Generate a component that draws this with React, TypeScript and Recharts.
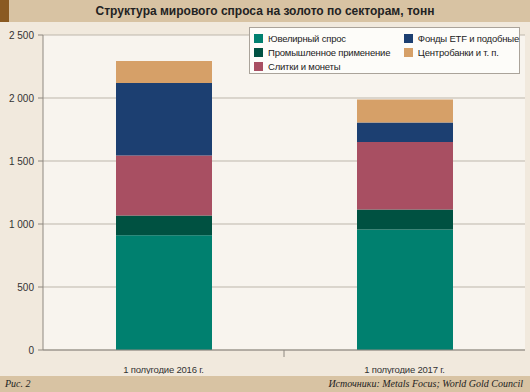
import React from "react";
import { BarChart, Bar, XAxis, YAxis, CartesianGrid } from "recharts";

const categories = ["1 полугодие 2016 г.", "1 полугодие 2017 г."];
const jewelry = [910, 957];
const industry = [158, 158];
const barsCoins = [475, 536];
const etf = [577, 155];
const centralBanks = [174, 182];
const yTicks = [0, 500, 1000, 1500, 2000, 2500];

const series = [
  { key: "jewelry", name: "Ювелирный спрос", color: "#00806f" },
  { key: "industry", name: "Промышленное применение", color: "#005141" },
  { key: "barsCoins", name: "Слитки и монеты", color: "#a84f62" },
  { key: "etf", name: "Фонды ETF и подобные", color: "#1c3f71" },
  { key: "centralBanks", name: "Центробанки и т. п.", color: "#d6a068" },
];

const data = categories.map((c, i) => ({
  cat: c,
  jewelry: jewelry[i],
  industry: industry[i],
  barsCoins: barsCoins[i],
  etf: etf[i],
  centralBanks: centralBanks[i],
}));

const FONT = "'Liberation Sans', Arial, sans-serif";

const fmt = (v: number) => (v >= 1000 ? `${Math.floor(v / 1000)} ${String(v % 1000).padStart(3, "0")}` : String(v));

const XTick = (props: any) => {
  const { x, y, payload, index } = props;
  return (
    <g>
      {index === 0 && <line x1={x + 120.5} x2={x + 120.5} y1={y - 8} y2={y - 1} stroke="#8e8880" strokeWidth={1} />}
      <text x={x} y={y + 15} textAnchor="middle" fontSize={9.5} letterSpacing={-0.2} fill="#333" fontFamily={FONT}>
        {payload.value}
      </text>
    </g>
  );
};

const LegendBox = () => {
  const col1 = series.slice(0, 3);
  const col2 = series.slice(3);
  const item = (s: any) => (
    <div key={s.key} style={{ display: "flex", alignItems: "center", height: 14 }}>
      <span style={{ display: "inline-block", width: 9, height: 9, background: s.color, marginRight: 5 }} />
      <span style={{ fontSize: 9.5, letterSpacing: -0.2, color: "#222", fontFamily: FONT, whiteSpace: "nowrap" }}>{s.name}</span>
    </div>
  );
  return (
    <div
      style={{
        position: "absolute",
        left: 249,
        top: 27,
        width: 271,
        height: 47,
        background: "#fdfcf9",
        border: "1px solid #aaa39a",
        display: "flex",
        paddingTop: 3,
        boxSizing: "border-box",
      }}
    >
      <div style={{ marginLeft: 4, width: 152 }}>{col1.map(item)}</div>
      <div>{col2.map(item)}</div>
    </div>
  );
};

export default function App() {
  return (
    <div style={{ position: "absolute", left: 0, top: 0, width: 530, height: 392, background: "#f1e9dd", overflow: "hidden" }}>
      <div style={{ position: "absolute", left: 0, top: 0, width: 530, height: 22, background: "#d8c3a3" }} />
      <div style={{ position: "absolute", left: 0, top: 0, width: 9, height: 22, background: "#8a5a22" }} />
      <div
        style={{
          position: "absolute",
          left: 0,
          top: 0,
          width: 530,
          height: 22,
          lineHeight: "22px",
          textAlign: "center",
          fontFamily: FONT,
          fontWeight: "bold",
          fontSize: 12,
          color: "#222",
        }}
      >
        Структура мирового спроса на золото по секторам, тонн
      </div>
      <div style={{ position: "absolute", left: 0, top: 0 }}>
        <BarChart width={530} height={374} data={data} margin={{ top: 35, right: 5, bottom: 4, left: 0 }} barCategoryGap={0}>
          <CartesianGrid horizontal vertical={false} stroke="#bdb6ab" fill="#f8f4ee" />
          <XAxis
            dataKey="cat"
            tick={<XTick />}
            tickLine={false}
            axisLine={{ stroke: "#8e8880" }}
            height={20}
            interval={0}
          />
          <YAxis
            domain={[0, 2500]}
            ticks={yTicks}
            tickFormatter={fmt}
            width={43}
            tickSize={5}
            tickMargin={4}
            axisLine={{ stroke: "#8e8880" }}
            tickLine={{ stroke: "#8e8880" }}
            tick={{ fontSize: 10, fill: "#333", fontFamily: FONT }}
          />
          <YAxis
            yAxisId="r"
            orientation="right"
            domain={[0, 2500]}
            width={0}
            tick={false}
            tickLine={false}
            axisLine={{ stroke: "#8e8880" }}
          />
          {series.map((s) => (
            <Bar key={s.key} dataKey={s.key} name={s.name} stackId="a" fill={s.color} barSize={96} isAnimationActive={false} />
          ))}
        </BarChart>
      </div>
      <LegendBox />
      <div style={{ position: "absolute", left: 0, top: 376, width: 530, height: 16, background: "#d8c3a3" }} />
      <div
        style={{
          position: "absolute",
          left: 5,
          top: 376,
          height: 16,
          lineHeight: "16px",
          fontFamily: "'Liberation Serif', serif",
          fontStyle: "italic",
          fontSize: 10,
          color: "#222",
        }}
      >
        Рис. 2
      </div>
      <div
        style={{
          position: "absolute",
          right: 7,
          top: 376,
          height: 16,
          lineHeight: "16px",
          fontFamily: "'Liberation Serif', serif",
          fontStyle: "italic",
          fontSize: 10,
          color: "#222",
        }}
      >
        Источники: Metals Focus; World Gold Council
      </div>
    </div>
  );
}
